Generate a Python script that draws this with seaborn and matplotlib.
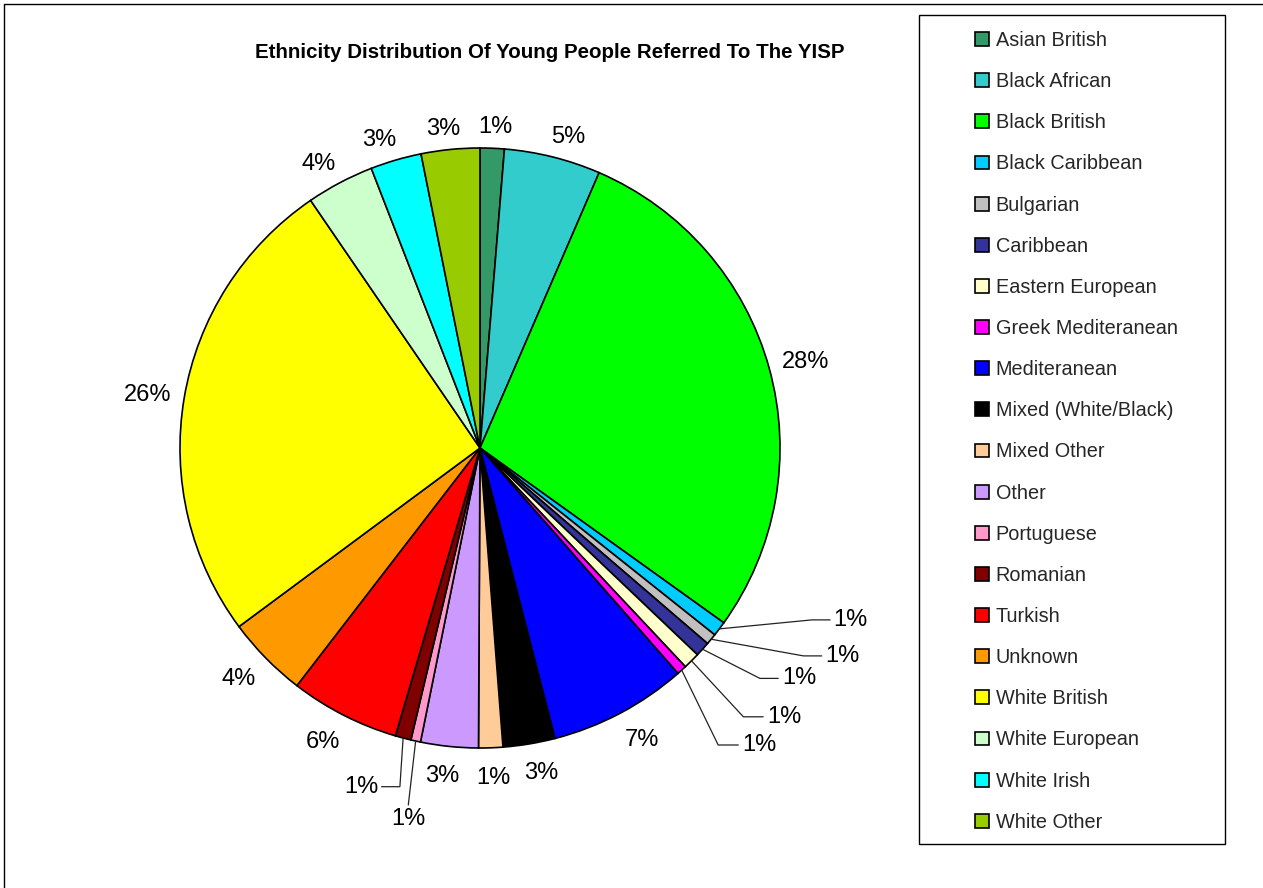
import numpy as np
import matplotlib
matplotlib.use("Agg")
import matplotlib.pyplot as plt
from matplotlib.patches import Rectangle
from matplotlib.lines import Line2D
import seaborn as sns

# Ethnic groups and their share of referrals (%)
categories = [
    "Asian British", "Black African", "Black British", "Black Caribbean",
    "Bulgarian", "Caribbean", "Eastern European", "Greek Mediteranean",
    "Mediteranean", "Mixed (White/Black)", "Mixed Other", "Other",
    "Portuguese", "Romanian", "Turkish", "Unknown", "White British",
    "White European", "White Irish", "White Other",
]
shares = [
    1.3, 5.2, 28.4, 0.8,
    0.6, 0.8, 0.9, 0.53,
    7.45, 2.8, 1.3, 3.1,
    0.52, 0.85, 5.9, 4.4, 25.6,
    3.65, 2.75, 3.15,
]
colors = [
    "#339966", "#33CCCC", "#00FF00", "#00CCFF",
    "#C0C0C0", "#333399", "#FFFFCC", "#FF00FF",
    "#0000FF", "#000000", "#FFCC99", "#CC99FF",
    "#FF99CC", "#800000", "#FF0000", "#FF9900", "#FFFF00",
    "#CCFFCC", "#00FFFF", "#99CC00",
]
title = "Ethnicity Distribution Of Young People Referred To The YISP"

sns.set_theme(style="white")
plt.rcParams["font.family"] = ["Liberation Sans", "DejaVu Sans"]

W, H = 1263, 888
fig = plt.figure(figsize=(W / 100, H / 100), dpi=100)
fig.patch.set_facecolor("white")


def px_box(x0, y0, x1, y1):
    return [x0 / W, 1 - y1 / H, (x1 - x0) / W, (y1 - y0) / H]


ax = fig.add_axes(px_box(80, 48, 880, 848))
wedges, _ = ax.pie(
    shares, colors=colors, startangle=90, counterclock=False, radius=1,
    wedgeprops=dict(edgecolor="black", linewidth=1.2),
)
ax.set_xlim(-4 / 3, 4 / 3)
ax.set_ylim(-4 / 3, 4 / 3)
ax.set_aspect("equal")
ax.axis("off")

total = float(sum(shares))
pct_labels = [f"{int(np.floor(v / total * 100 + 0.5))}%" for v in shares]

# small slices get their label pulled out on a leader line: (elbow, end)
leaders = {
    "Black Caribbean": ((1.106, -0.573), (1.167, -0.573)),
    "Bulgarian": ((1.078, -0.693), (1.139, -0.693)),
    "Caribbean": ((0.933, -0.768), (0.994, -0.768)),
    "Eastern European": ((0.878, -0.896), (0.944, -0.896)),
    "Greek Mediteranean": ((0.794, -0.990), (0.861, -0.990)),
    "Romanian": ((-0.267, -1.129), (-0.328, -1.129)),
    "Portuguese": ((-0.239, -1.190), (-0.239, -1.190)),
}

label_fs = 17
renderer = fig.canvas.get_renderer()
unit_px = ax.transData.transform((1, 0))[0] - ax.transData.transform((0, 0))[0]
gap = 1.04  # distance of the label box from the rim, in radii

for w, cat, lab in zip(wedges, categories, pct_labels):
    mid = np.deg2rad((w.theta1 + w.theta2) / 2)
    ex, ey = np.cos(mid), np.sin(mid)
    if cat in leaders:
        (bx, by), (tx, ty) = leaders[cat]
        ax.plot([ex, bx, tx], [ey, by, ty], color="#222222", lw=0.9,
                solid_joinstyle="miter", clip_on=False)
        if cat == "Portuguese":
            ax.text(tx, ty - 0.01, lab, ha="center", va="top",
                    fontsize=label_fs, color="black")
        elif tx < 0:
            ax.text(tx - 0.01, ty, lab, ha="right", va="center",
                    fontsize=label_fs, color="black")
        else:
            ax.text(tx + 0.012, ty, lab, ha="left", va="center",
                    fontsize=label_fs, color="black")
    else:
        t = ax.text(0, 0, lab, ha="center", va="center",
                    fontsize=label_fs, color="black")
        bb = t.get_window_extent(renderer)
        hw = bb.width / 2 / unit_px
        hh = bb.height / 2 / unit_px * 0.8
        # keep labels clear of neighbours: spread sideways, drop lower ones
        dx = 0.03 * np.clip(ex / 0.2, -1, 1) * abs(ey)
        dy = 0.03 * min(ey, 0)
        t.set_position((gap * ex + hw * ex + dx, gap * ey + hh * ey + dy))

fig.text(550 / W, 1 - 52 / H, title, ha="center", va="center",
         fontsize=14.8, fontweight="bold", color="black")

# legend with its own plain box
fig.legend(
    wedges, categories, loc="upper left",
    bbox_to_anchor=(975 / W, 1 - 31 / H), frameon=False,
    fontsize=14.3, handlelength=0.7, handleheight=0.7, handletextpad=0.35,
    labelspacing=1.115, borderpad=0, borderaxespad=0,
)
x0, y0, w_, h_ = px_box(919, 15, 1225, 844)
fig.add_artist(Rectangle((x0, y0), w_, h_, transform=fig.transFigure,
                         fill=False, edgecolor="black", linewidth=1.0))
# chart area border (top and left edges)
fig.add_artist(Line2D([4 / W, 4 / W, 1.0], [0.0, 1 - 4 / H, 1 - 4 / H],
                      transform=fig.transFigure, color="black", lw=1.0))

fig.savefig("out.png", dpi=100, facecolor="white")
